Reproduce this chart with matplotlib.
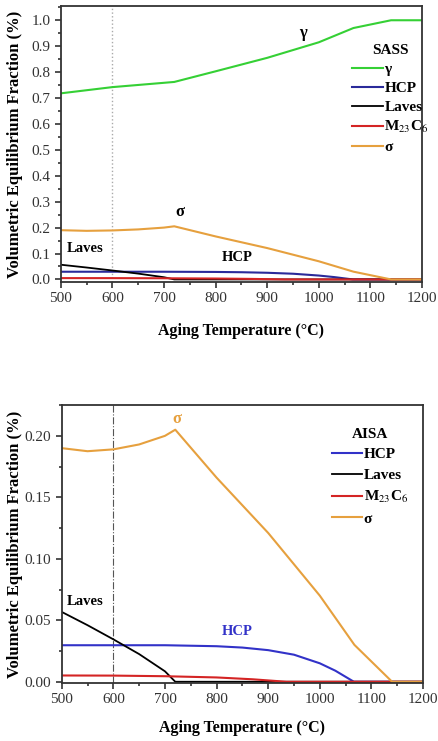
import numpy as np
import matplotlib
matplotlib.use('Agg')
import matplotlib.pyplot as plt
from matplotlib.ticker import MultipleLocator

plt.rcParams['font.family'] = ['Liberation Serif', 'DejaVu Serif']
plt.rcParams['mathtext.fontset'] = 'stix'

# ---- data ----
# SASS (top)
T_gamma = [500, 600, 720, 800, 900, 1000, 1067, 1140, 1200]
gamma = [0.718, 0.742, 0.762, 0.803, 0.855, 0.915, 0.970, 1.0, 1.0]

T_sig = [500, 550, 600, 650, 700, 720, 800, 900, 1000, 1067, 1140, 1200]
sigma = [0.190, 0.1875, 0.189, 0.193, 0.200, 0.205, 0.166, 0.121, 0.070, 0.030, 0.0, 0.0]

T_hcp = [500, 700, 800, 850, 900, 950, 1000, 1030, 1066, 1200]
hcp = [0.0297, 0.0297, 0.0289, 0.0278, 0.0257, 0.0220, 0.0150, 0.0090, 0.0, 0.0]

T_lav = [500, 550, 600, 650, 700, 720, 1200]
laves = [0.0568, 0.0460, 0.0345, 0.0225, 0.0085, 0.0, 0.0]

T_m23 = [500, 600, 700, 800, 870, 935, 1200]
m23c6 = [0.0051, 0.0050, 0.0045, 0.0035, 0.0020, 0.0, 0.0]

xticks = [500, 600, 700, 800, 900, 1000, 1100, 1200]

c_green = '#35d035'
c_blue_top = '#2a2a9a'
c_blue = '#3232c8'
c_red = '#d42424'
c_orange = '#e6a03e'
c_axis = '#333333'

fig = plt.figure(figsize=(4.38, 7.41), dpi=100)
ax1 = fig.add_axes([0.1386, 0.6194, 0.825, 0.3725])
ax2 = fig.add_axes([0.1409, 0.0783, 0.825, 0.375])


def style_axes(ax, xpad, ylab_x):
    for s in ax.spines.values():
        s.set_linewidth(1.3)
        s.set_color(c_axis)
    ax.tick_params(which='both', direction='out', colors=c_axis, labelsize=11,
                   width=1.2)
    ax.tick_params(which='major', length=4)
    ax.tick_params(which='minor', length=2.5)
    ax.set_xlim(500, 1200)
    ax.set_xticks(xticks)
    ax.xaxis.set_minor_locator(MultipleLocator(50))
    ax.set_xlabel('Aging Temperature (°C)', fontsize=11.5, fontweight='bold',
                  labelpad=xpad)
    ax.set_ylabel('Volumetric Equilibrium Fraction (%)', fontsize=12,
                  fontweight='bold')
    ax.yaxis.set_label_coords(ylab_x, 0.5)


# ---- top: SASS ----
ax = ax1
ax.axvline(600, color='#aaaaaa', ls=':', lw=1.0)
ax.plot(T_gamma, gamma, color=c_green, lw=1.5, label='γ')
ax.plot(T_hcp, hcp, color=c_blue_top, lw=1.5, label='HCP')
ax.plot(T_lav, laves, color='black', lw=1.3, label='Laves')
ax.plot(T_m23, m23c6, color=c_red, lw=1.5, label='M$_{23}$C$_{6}$')
ax.plot(T_sig, sigma, color=c_orange, lw=1.5, label='σ')
ax.set_ylim(-0.01, 1.055)
ax.set_yticks(np.round(np.arange(0, 1.01, 0.1), 1))
ax.yaxis.set_minor_locator(MultipleLocator(0.05))
style_axes(ax, 13, -0.103)
ax.text(969, 0.95, 'γ', fontsize=12, fontweight='bold', ha='center', va='center')
ax.text(731, 0.26, 'σ', fontsize=12, fontweight='bold', ha='center', va='center')
ax.text(547, 0.12, 'Laves', fontsize=10.5, fontweight='bold', ha='center', va='center')
ax.text(841, 0.086, 'HCP', fontsize=10.5, fontweight='bold', ha='center', va='center')
leg = ax.legend(loc='upper left', bbox_to_anchor=(0.79, 0.885), frameon=False,
                title='SASS', prop={'weight': 'bold', 'size': 11},
                handlelength=2.0, handletextpad=0.1, labelspacing=0.35,
                borderaxespad=0)
leg.get_title().set_fontweight('bold')
leg.get_title().set_fontsize(11)

# ---- bottom: AISA ----
ax = ax2
ax.axvline(600, color='#555555', ls='-.', lw=0.8)
ax.plot(T_hcp, hcp, color=c_blue, lw=1.5, label='HCP')
ax.plot(T_lav, laves, color='black', lw=1.3, label='Laves')
ax.plot(T_m23, m23c6, color=c_red, lw=1.5, label='M$_{23}$C$_{6}$')
ax.plot(T_sig, sigma, color=c_orange, lw=1.5, label='σ')
ax.set_ylim(-0.001, 0.225)
ax.set_yticks([0.0, 0.05, 0.10, 0.15, 0.20])
ax.set_yticklabels(['0.00', '0.05', '0.10', '0.15', '0.20'])
ax.yaxis.set_minor_locator(MultipleLocator(0.025))
style_axes(ax, 10, -0.106)
ax.text(723, 0.214, 'σ', fontsize=12, fontweight='bold', color=c_orange,
        ha='center', va='center')
ax.text(545, 0.065, 'Laves', fontsize=10.5, fontweight='bold', ha='center', va='center')
ax.text(840, 0.041, 'HCP', fontsize=10.5, fontweight='bold', color=c_blue,
        ha='center', va='center')
leg = ax.legend(loc='upper left', bbox_to_anchor=(0.73, 0.94), frameon=False,
                title='AISA', prop={'weight': 'bold', 'size': 11},
                handlelength=2.0, handletextpad=0.1, labelspacing=0.45,
                borderaxespad=0)
leg.get_title().set_fontweight('bold')
leg.get_title().set_fontsize(11)

fig.savefig('out.png', dpi=100)
